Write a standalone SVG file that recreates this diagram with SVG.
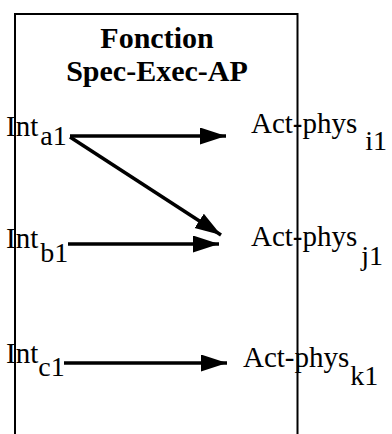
<svg xmlns="http://www.w3.org/2000/svg" width="392" height="434" viewBox="0 0 392 434">
<style>
text{font-family:"Liberation Serif","Times New Roman",serif;fill:#000}
.t{font-size:29px}
.b{font-size:30px;font-weight:bold}
.s{font-size:28px}
.c{stroke:#000;stroke-width:3.5;fill:none}
</style>
<defs>
<marker id="ah" markerUnits="userSpaceOnUse" markerWidth="27" markerHeight="18" refX="26" refY="8.5" orient="auto" viewBox="0 0 27 18">
<path d="M0,0 L26,8.5 L0,17 z" fill="#000"/>
</marker>
</defs>
<rect width="392" height="434" fill="#fff"/>
<g id="box">
<path d="M15,434 V14 H297.5 V434" fill="none" stroke="#000" stroke-width="2"/>
<text class="b" x="157" y="48" text-anchor="middle">Fonction</text>
<text class="b" x="157" y="81" text-anchor="middle">Spec-Exec-AP</text>
</g>
<g id="int_a1"><text class="t" x="6" y="136">Int<tspan class="s" dx="2" dy="9">a1</tspan></text></g>
<g id="int_b1"><text class="t" x="6" y="248">Int<tspan class="s" dx="2" dy="14">b1</tspan></text></g>
<g id="int_c1"><text class="t" x="6" y="363">Int<tspan class="s" dx="0" dy="13">c1</tspan></text></g>
<g id="act_i1"><text class="t" x="251" y="133">Act-phys<tspan class="s" dy="17" dx="8">i1</tspan></text></g>
<g id="act_j1"><text class="t" x="251" y="246">Act-phys<tspan class="s" dy="19" dx="4">j1</tspan></text></g>
<g id="act_k1"><text class="t" x="243" y="367">Act-phys<tspan class="s" dy="18" dx="1">k1</tspan></text></g>
<g id="connectors">
<line class="c" x1="70" y1="136" x2="226" y2="136" marker-end="url(#ah)"/>
<line class="c" x1="70" y1="137" x2="221" y2="235" marker-end="url(#ah)"/>
<line class="c" x1="68" y1="244" x2="219" y2="244" marker-end="url(#ah)"/>
<line class="c" x1="64" y1="363" x2="227" y2="363" marker-end="url(#ah)"/>
</g>
</svg>
